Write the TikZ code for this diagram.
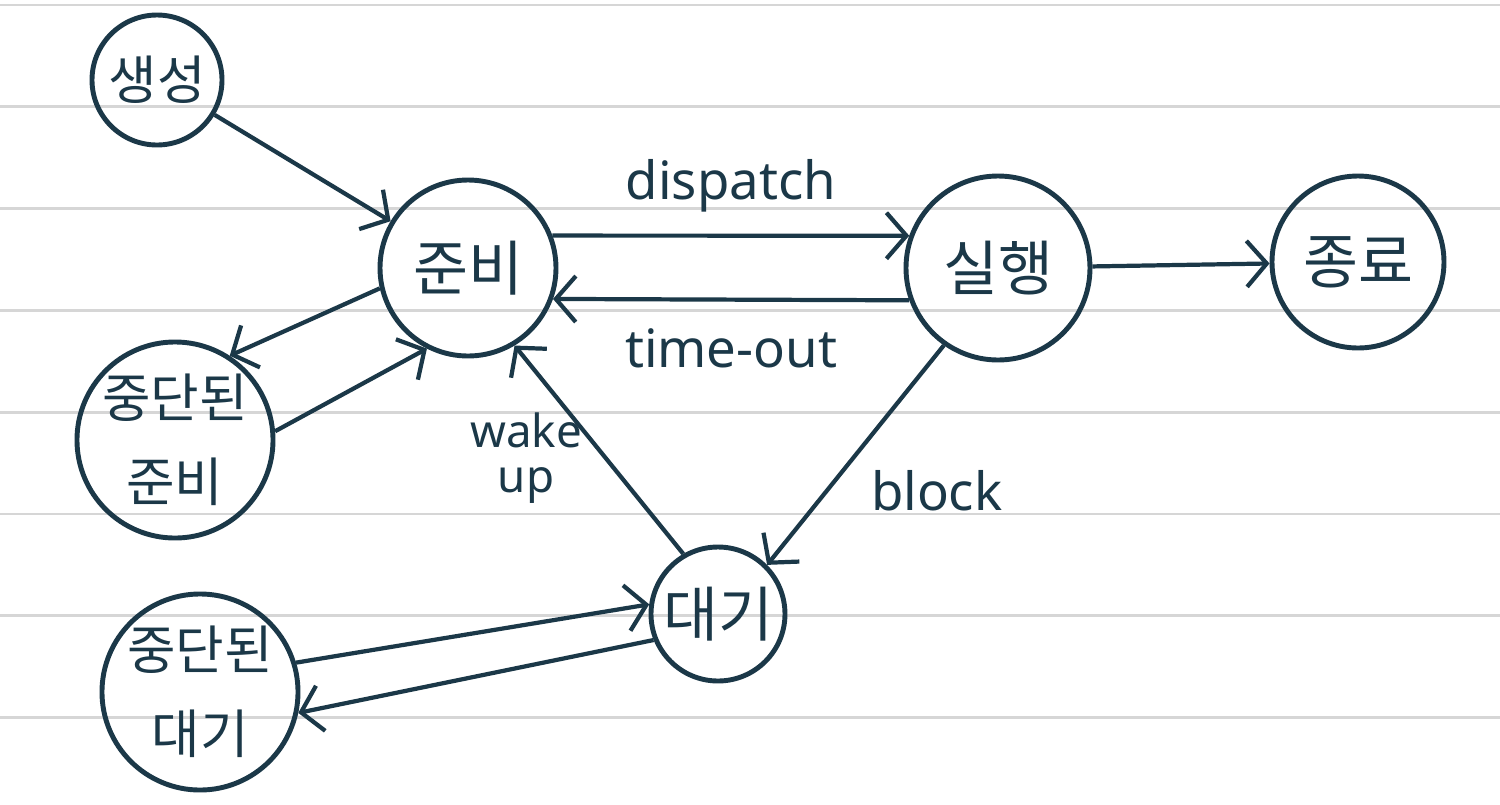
\documentclass[tikz,border=0pt]{standalone}
\usepackage{fontspec}
\setmainfont{Noto Sans}
\newfontfamily\kor{Noto Sans CJK KR}
\usetikzlibrary{arrows.meta,positioning}
\definecolor{slate}{RGB}{27,56,72}
\definecolor{ruleg}{RGB}{214,214,214}
\tikzset{
  proc/.style={circle,draw=slate,line width=1.4pt,inner sep=0pt,text=slate,
    font=\kor\fontsize{17}{20}\selectfont,align=center},
  proc2/.style={proc,font=\kor\fontsize{15}{24}\selectfont},
  flow/.style={draw=slate,line width=1.2pt,
    -{Straight Barb[length=2mm,width=4.6mm,line width=1.2pt]}},
  lbl/.style={text=slate,font=\fontsize{15}{15}\selectfont,align=center},
  ruleline/.style={draw=ruleg,line width=0.8pt}
}
\begin{document}
\begin{tikzpicture}
    \useasboundingbox[fill=white] (0,0) rectangle (15,8.04);
    % notebook lines
    \foreach \r in {0,...,7}
      \draw[ruleline] (0,{7.99-1.018*\r}) -- (15,{7.99-1.018*\r});

    % states
    \node[proc,minimum size=1.30cm,font=\kor\fontsize{15}{18}\selectfont] (saengseong) at (1.57,7.24) {생성};
    \node[proc,minimum size=1.76cm] (junbi) at (4.68,5.36) {준비};
    \node[proc,minimum size=1.84cm] (silhaeng) at (9.98,5.36) {실행};
    \node[proc,minimum size=1.72cm] (jongryo) at (13.58,5.42) {종료};
    \node[proc2,minimum size=1.94cm] (jdjunbi) at (1.75,3.64) {중단된\\준비};
    \node[proc,minimum size=1.34cm] (daegi) at (7.18,1.90) {대기};
    \node[proc2,minimum size=1.90cm] (jddaegi) at (2.00,1.12) {중단된\\대기};

    % transitions
    \draw[flow] (saengseong) -- (junbi);
    \draw[flow] (junbi.21) -- node[lbl,above=1mm] (dispatchlbl) {dispatch} (silhaeng.160);
    \draw[flow] (silhaeng.200) -- node[lbl,below=1.5mm] (timeoutlbl) {time-out} (junbi.340);
    \draw[flow] (silhaeng) -- (jongryo);
    \draw[flow] (junbi.193) -- (jdjunbi.57);
    \draw[flow] (jdjunbi.5) -- (junbi.243);
    \draw[flow] (silhaeng.235) -- node[lbl,pos=0.66,right=3mm] (blocklbl) {block} (daegi.45);
    \draw[flow] (daegi.120) -- node[lbl,pos=0.46,left=1mm,font=\fontsize{13}{13}\selectfont] (wakelbl) {wake\\up} (junbi.301);
    \draw[flow] (jddaegi.17) -- (daegi.172);
    \draw[flow] (daegi.202) -- (jddaegi.348);
\end{tikzpicture}
\end{document}
